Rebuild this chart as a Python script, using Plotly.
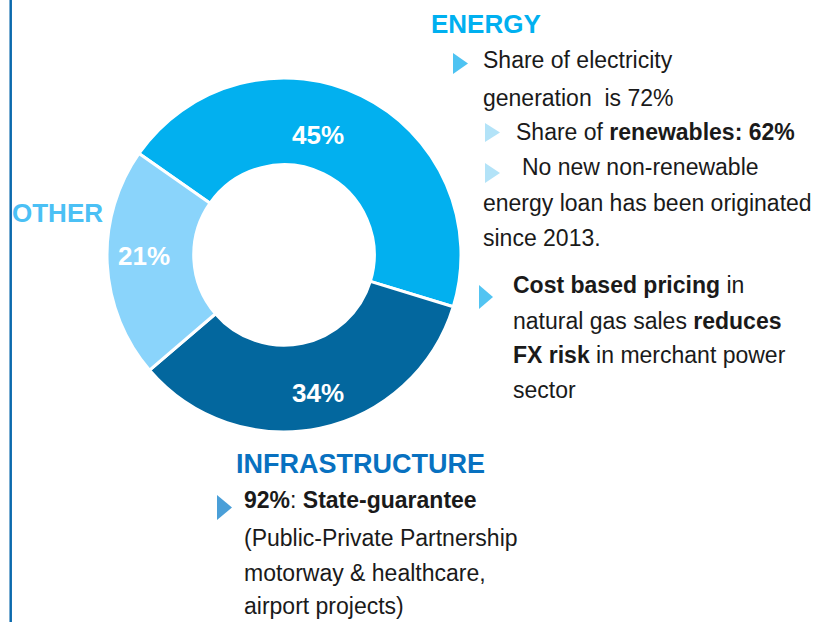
import plotly.graph_objects as go

# Loan book split by sector (percent)
sectors = ["Energy", "Infrastructure", "Other"]
shares = [45, 34, 21]
slice_colors = ["#02B0EF", "#03679E", "#8AD4FB"]

W, H = 821, 622


def px(x):
    return x / W


def py(y):
    return 1 - y / H


fig = go.Figure()

# Donut: centre (284, 255) px, outer radius 177 px
cx, cy, r = 284, 255, 177
fig.add_trace(go.Pie(
    labels=sectors,
    values=shares,
    sort=False,
    direction="clockwise",
    rotation=-55,
    hole=0.51,
    marker=dict(colors=slice_colors, line=dict(color="white", width=3)),
    textinfo="none",
    hoverinfo="label+percent",
    domain=dict(x=[px(cx - r), px(cx + r)], y=[py(cy + r), py(cy - r)]),
    showlegend=False,
))

annotations = []


def text(x, y, s, size=23, color="#1A1A1A", bold=False, anchor="left"):
    annotations.append(dict(
        x=px(x), y=py(y), xref="paper", yref="paper",
        text=f"<b>{s}</b>" if bold else s,
        showarrow=False, xanchor=anchor, yanchor="middle",
        borderpad=0, borderwidth=0,
        font=dict(family="Liberation Sans, Arial, sans-serif", size=size, color=color),
    ))


# Percent labels inside the ring
label_pos = [(318, 135), (318, 393), (144, 256)]
for (lx, ly), v in zip(label_pos, shares):
    text(lx, ly, f"{v}%", size=26, color="white", bold=True, anchor="center")

# Sector headings
text(431, 24, "ENERGY", size=26, color="#00B0F0", bold=True)
text(12, 213, "OTHER", size=26, color="#4BC0F5", bold=True)
text(236, 464, "INFRASTRUCTURE", size=27, color="#0871C0", bold=True)

# Energy notes
text(483, 60, "Share of electricity")
text(483, 98, "generation  is 72%")
text(516, 132, "Share of <b>renewables: 62%</b>")
text(522, 167, "No new non-renewable")
text(483, 203, "energy loan has been originated")
text(483, 238, "since 2013.")

text(513, 285, "<b>Cost based pricing</b> in")
text(513, 321, "natural gas sales <b>reduces</b>")
text(513, 355, "<b>FX risk</b> in merchant power")
text(513, 390, "sector")

# Infrastructure notes
text(244, 500, "<b>92%</b>: <b>State-guarantee</b>")
text(244, 538, "(Public-Private Partnership")
text(244, 573, "motorway & healthcare,")
text(244, 606, "airport projects)")

shapes = []


def bullet(x0, ytop, ybot, w, color):
    ym = (ytop + ybot) / 2
    path = (f"M {px(x0)} {py(ytop)} L {px(x0 + w)} {py(ym)} "
            f"L {px(x0)} {py(ybot)} Z")
    shapes.append(dict(type="path", xref="paper", yref="paper", path=path,
                       fillcolor=color, line=dict(width=0)))


bullet(453, 53, 74, 15, "#4EC3F2")
bullet(485, 123, 142, 15, "#B3E3F8")
bullet(485, 163, 183, 15, "#B3E3F8")
bullet(479, 285, 309, 14, "#52C4F2")
bullet(217, 495, 520, 15, "#4A9FD8")

# Vertical rule on the left edge
shapes.append(dict(type="line", xref="paper", yref="paper",
                   x0=px(10.7), x1=px(10.7), y0=0, y1=1,
                   line=dict(color="#0B6AAD", width=2.5)))

fig.update_layout(
    width=W, height=H,
    margin=dict(l=0, r=0, t=0, b=0),
    paper_bgcolor="white", plot_bgcolor="white",
    annotations=annotations,
    shapes=shapes,
    showlegend=False,
)

fig.write_html("out.html")
